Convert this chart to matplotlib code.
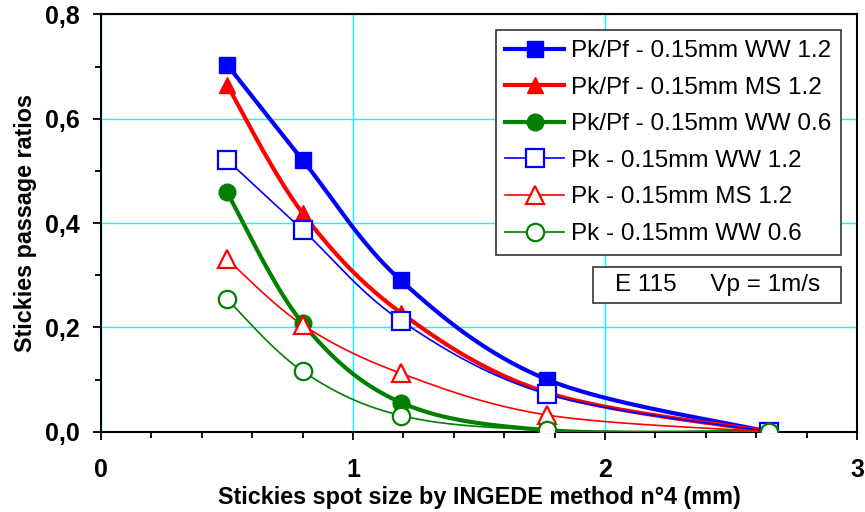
import numpy as np
import matplotlib
matplotlib.use("Agg")
import matplotlib.pyplot as plt
from matplotlib.patches import Rectangle

plt.rcParams['font.family'] = ['Liberation Sans', 'DejaVu Sans']

# ---- data ----
spot_size = [0.5, 0.8, 1.19, 1.77, 2.65]
pkpf_ww12 = [0.704, 0.521, 0.290, 0.100, 0.0]
pkpf_ms12 = [0.665, 0.419, 0.228, 0.075, 0.0]
pkpf_ww06 = [0.459, 0.208, 0.056, 0.003, 0.0]
pk_ww12 = [0.521, 0.387, 0.213, 0.072, 0.0]
pk_ms12 = [0.331, 0.205, 0.112, 0.032, 0.0]
pk_ww06 = [0.254, 0.116, 0.031, 0.003, 0.0]
labels = ["Pk/Pf - 0.15mm WW 1.2", "Pk/Pf - 0.15mm MS 1.2", "Pk/Pf - 0.15mm WW 0.6",
          "Pk - 0.15mm WW 1.2", "Pk - 0.15mm MS 1.2", "Pk - 0.15mm WW 0.6"]
x_ticks = [0, 1, 2, 3]
y_ticks = [0.0, 0.2, 0.4, 0.6, 0.8]


def smooth(xs, ys, n=40):
    """Excel-like smoothed line: Catmull-Rom cubic Bezier through the points."""
    P = np.column_stack([xs, ys]).astype(float)
    m = len(P)
    out = [P[0]]
    t = np.linspace(0, 1, n)[1:, None]
    for i in range(m - 1):
        p0 = P[i - 1] if i > 0 else P[i]
        p1, p2 = P[i], P[i + 1]
        p3 = P[i + 2] if i + 2 < m else P[i + 1]
        c1 = p1 + (p2 - p0) / 6.0
        c2 = p2 - (p3 - p1) / 6.0
        seg = ((1 - t) ** 3) * p1 + 3 * ((1 - t) ** 2) * t * c1 + 3 * (1 - t) * t ** 2 * c2 + t ** 3 * p2
        out.extend(seg)
    out = np.array(out)
    return out[:, 0], out[:, 1]


fig = plt.figure(figsize=(8.65, 5.12), dpi=100)
ax = fig.add_axes([0.1168, 0.1568, 0.8740, 0.8149])

series = [
    (pkpf_ww12, '#0000FF', 's', True, 3.0),
    (pkpf_ms12, '#FF0000', '^', True, 3.0),
    (pkpf_ww06, '#008000', 'o', True, 3.0),
    (pk_ww12, '#0000FF', 's', False, 1.2),
    (pk_ms12, '#FF0000', '^', False, 1.2),
    (pk_ww06, '#008000', 'o', False, 1.2),
]

for (ys, col, mk, filled, lw), lab in zip(series, labels):
    sx, sy = smooth(spot_size, ys)
    ax.plot(sx, sy, color=col, lw=lw, solid_joinstyle='round', zorder=3)
    ms = {'s': 11.5, '^': 12, 'o': 12}[mk] if filled else 12.5
    ax.plot(spot_size, ys, linestyle='none', marker=mk, markersize=ms,
            markerfacecolor=col if filled else 'white', markeredgecolor=col,
            markeredgewidth=1.0 if filled else 1.6, zorder=4)
    ax.plot([], [], color=col, lw=lw, marker=mk, markersize=ms,
            markerfacecolor=col if filled else 'white', markeredgecolor=col,
            markeredgewidth=1.0 if filled else 1.6, label=lab)

ax.set_xlim(0, 3)
ax.set_ylim(0, 0.8)
ax.set_xticks(x_ticks)
ax.set_yticks(y_ticks)
ax.set_xticks(np.arange(0, 3.01, 0.2), minor=True)
ax.set_yticks(np.arange(0, 0.81, 0.1), minor=True)
ax.set_xticklabels([str(v) for v in x_ticks], fontsize=18, fontweight='bold')
ax.set_yticklabels([f"{v:.1f}".replace('.', ',') for v in y_ticks], fontsize=18, fontweight='bold')
ax.tick_params(which='major', direction='out', length=6, width=1.3, pad=9)
ax.tick_params(axis='x', which='major', pad=13)
ax.tick_params(which='minor', direction='out', length=4.5, width=1.3)
for s in ax.spines.values():
    s.set_linewidth(1.5)
    s.set_color('black')
ax.grid(True, which='major', color='#00FFFF', lw=1.0, zorder=0)
ax.set_axisbelow(True)

ax.set_xlabel("Stickies spot size by INGEDE method n°4 (mm)", fontsize=16.8, fontweight='bold', labelpad=3)
ax.set_ylabel("Stickies passage ratios", fontsize=16.8, fontweight='bold', labelpad=6)

leg = ax.legend(loc='upper left', bbox_to_anchor=(0.522, 0.962), fontsize=17.5,
                frameon=True, fancybox=False, framealpha=1, edgecolor='#333333',
                numpoints=1, handlelength=2.4, handletextpad=0.3, labelspacing=0.6,
                borderpad=0.4, borderaxespad=0)
leg.get_frame().set_linewidth(1.2)
leg.set_zorder(10)

ax.add_patch(Rectangle((0.651, 0.309), 0.328, 0.0863, transform=ax.transAxes,
                       facecolor='white', edgecolor='#333333', lw=1.2, zorder=9))
ax.text(0.815, 0.352, "E 115     Vp = 1m/s", transform=ax.transAxes, fontsize=17.5,
        ha='center', va='center', zorder=10)

fig.savefig("out.png", dpi=100)
